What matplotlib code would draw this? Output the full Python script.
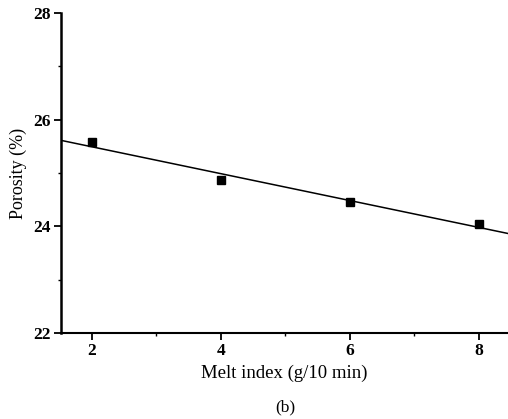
import numpy as np
import matplotlib
matplotlib.use("Agg")
import matplotlib.pyplot as plt
from matplotlib.ticker import MultipleLocator

melt_index = [2, 4, 6, 8]
porosity = [25.58, 24.87, 24.45, 24.04]
xticks = [2, 4, 6, 8]
yticks = [22, 24, 26, 28]

plt.rcParams['font.family'] = ['Liberation Serif', 'DejaVu Serif']

fig = plt.figure(figsize=(5.08, 4.19), dpi=100)
ax = fig.add_axes([0.120, 0.2053, 0.880, 0.7637])

xlim = (1.52, 8.45)
slope, intercept = np.polyfit(melt_index, porosity, 1)
xl = np.array(xlim)
ax.plot(xl, slope * xl + intercept, color='black', lw=1.1)
ax.plot(melt_index, porosity, 's', color='black', ms=6)

ax.set_xlim(*xlim)
ax.set_ylim(22, 28)
ax.set_xticks(xticks)
ax.set_yticks(yticks)
ax.xaxis.set_minor_locator(MultipleLocator(1))
ax.yaxis.set_minor_locator(MultipleLocator(1))
ax.tick_params(which='major', direction='out', length=5, width=1.3, labelsize=12.5, pad=2.5)
ax.tick_params(which='minor', direction='out', length=2.5, width=1.0)
for lbl in ax.get_xticklabels() + ax.get_yticklabels():
    lbl.set_fontweight('bold')

ax.spines['top'].set_visible(False)
ax.spines['right'].set_visible(False)
ax.spines['left'].set_linewidth(1.8)
ax.spines['bottom'].set_linewidth(1.5)

ax.set_xlabel('Melt index (g/10 min)', fontsize=13.5, labelpad=4)
ax.set_ylabel('Porosity (%)', fontsize=13, labelpad=4)
fig.text(0.561, 0.027, '(b)', fontsize=12.5, ha='center', va='center')

fig.savefig('out.png', dpi=100)
